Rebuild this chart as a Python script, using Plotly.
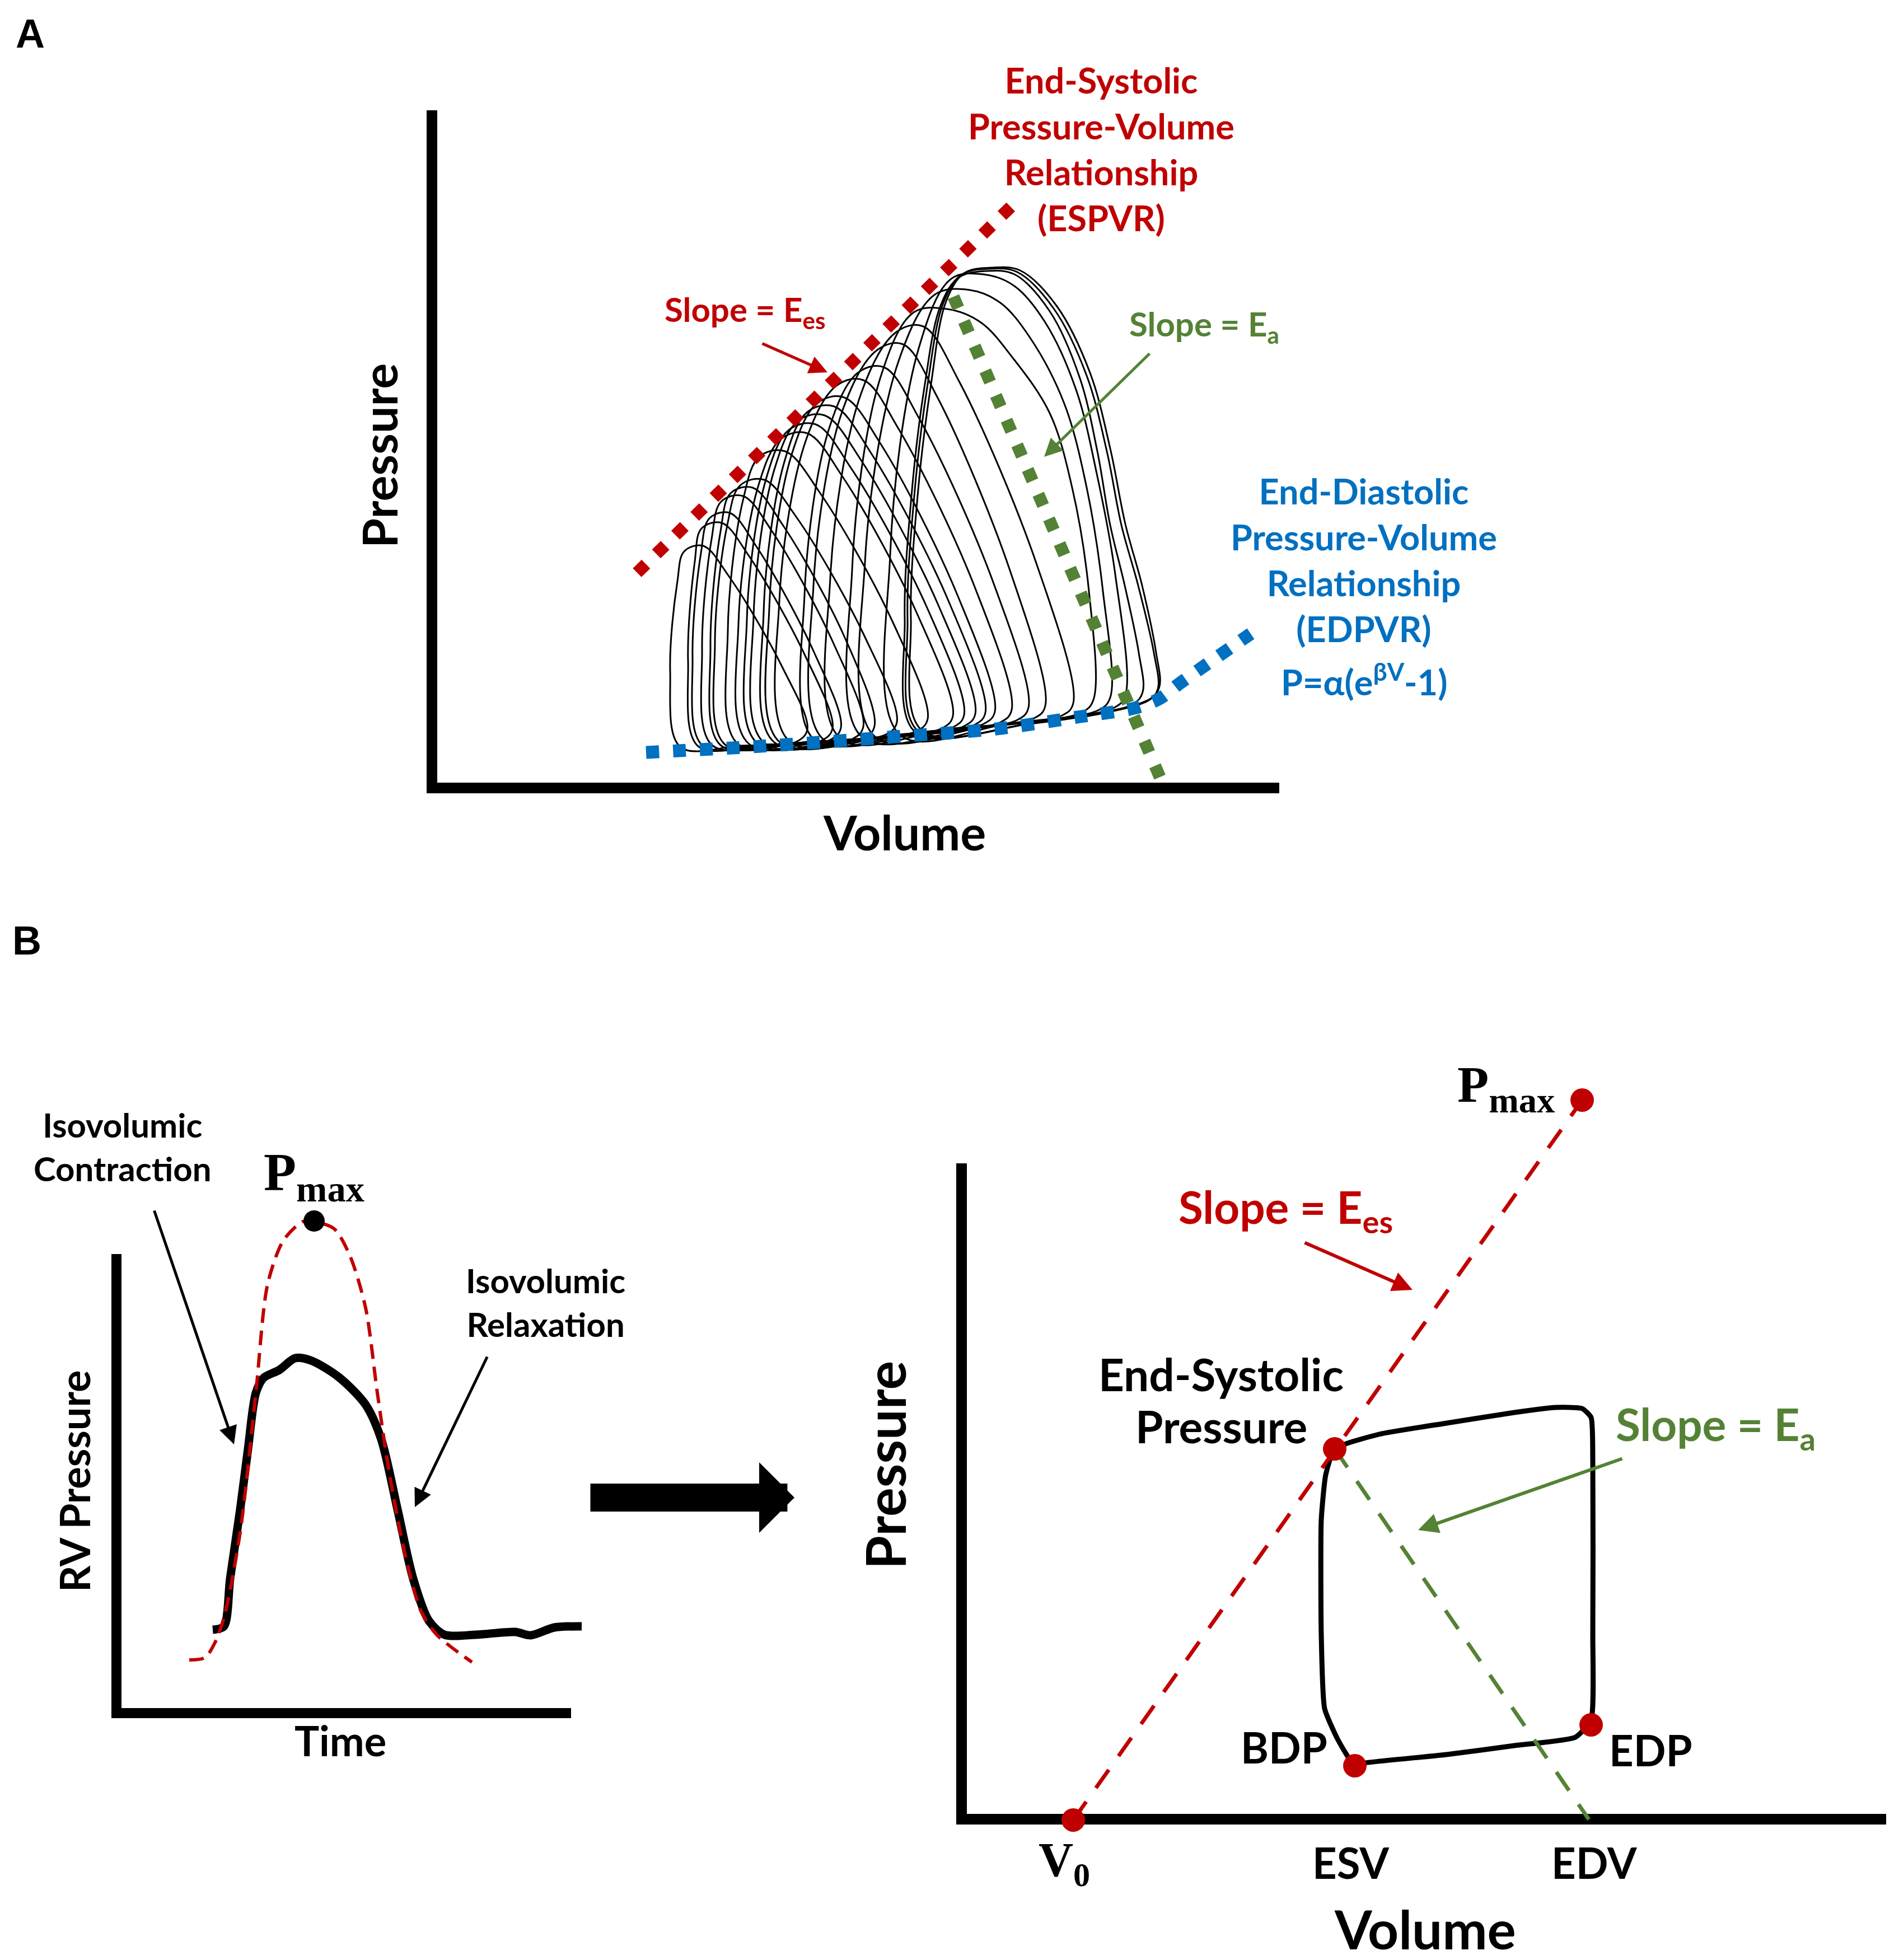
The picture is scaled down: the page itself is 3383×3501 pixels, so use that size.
import plotly.graph_objects as go

W, H = 3383, 3501

RED = "#C00000"
GREEN = "#548235"
BLUE = "#0070C0"
SANS = "Lato, Open Sans, DejaVu Sans, sans-serif"
SERIF = "Liberation Serif, DejaVu Serif, serif"

# ---------------- Panel A : IVC occlusion family of PV loops ----------------
espvr_volume = [37.1, 104.4]
espvr_pressure = [38.3, 104.2]

ea_volume_a = [93.6, 130.9]
ea_pressure_a = [87.6, 0.8]

edpvr_volume = [38.7, 59.1, 83.1, 102.1, 116.3, 125.9, 130.4, 134.1, 146.7]
edpvr_pressure = [6.2, 7.3, 9.0, 10.5, 12.6, 14.1, 15.8, 18.6, 27.4]

loop_volumes = [
    [55.6, 44.8, 43.0, 44.3, 45.5, 48.9, 53.4, 63.0, 67.5, 65.5, 55.6],
    [59.5, 48.0, 46.2, 47.4, 48.6, 52.2, 57.0, 67.2, 72.0, 70.0, 59.5],
    [60.7, 48.8, 47.0, 48.5, 50.0, 53.6, 58.4, 68.7, 73.5, 71.5, 60.7],
    [63.5, 50.5, 48.7, 50.4, 52.1, 56.0, 61.2, 72.3, 77.5, 75.5, 63.5],
    [65.3, 52.0, 50.2, 52.0, 53.8, 57.7, 63.0, 74.2, 79.5, 77.5, 65.3],
    [67.7, 52.8, 51.0, 53.2, 55.5, 59.8, 65.5, 77.7, 83.5, 81.5, 67.7],
    [71.6, 55.1, 53.3, 56.0, 58.9, 63.5, 69.6, 82.8, 89.0, 87.0, 71.6],
    [74.8, 57.0, 55.2, 58.8, 62.8, 67.5, 73.7, 87.1, 93.5, 91.5, 74.8],
    [76.5, 58.5, 56.7, 60.2, 64.2, 69.0, 75.3, 89.0, 95.5, 93.5, 76.5],
    [78.1, 59.7, 57.9, 61.6, 65.8, 70.6, 77.1, 90.9, 97.5, 95.5, 78.1],
    [79.9, 61.5, 59.7, 63.4, 67.5, 72.3, 78.8, 92.7, 99.3, 97.3, 79.9],
    [81.3, 62.5, 60.7, 64.7, 69.3, 74.1, 80.6, 94.4, 101.0, 99.0, 81.3],
    [83.7, 64.3, 62.5, 67.3, 72.7, 77.5, 83.8, 97.5, 104.0, 102.0, 83.7],
    [87.4, 68.8, 67.0, 71.4, 76.5, 81.2, 87.4, 100.7, 107.0, 105.0, 87.4],
    [89.7, 70.4, 68.6, 73.9, 80.0, 84.6, 90.7, 103.8, 110.0, 108.0, 89.7],
    [93.7, 73.4, 71.6, 77.1, 83.4, 88.2, 94.6, 108.4, 115.0, 113.0, 93.7],
    [97.5, 77.3, 75.5, 80.6, 86.5, 92.5, 98.5, 104.1, 110.8, 114.8, 117.8, 118.6, 116.6, 97.5],
    [100.3, 79.6, 77.8, 83.8, 90.3, 96.5, 102.0, 107.4, 113.4, 117.4, 120.3, 121.6, 119.6, 100.3],
    [103.7, 84.1, 82.3, 87.4, 93.2, 99.0, 104.5, 110.0, 115.5, 119.2, 122.5, 124.3, 122.3, 103.7],
    [106.5, 86.8, 84.9, 86.1, 88.5, 91.3, 94.5, 99.5, 104.5, 110.8, 116.2, 119.3, 121.6, 124.2, 126.7, 127.4, 125.6, 106.5],
    [108.0, 87.3, 85.4, 86.6, 89.0, 91.8, 95.0, 100.0, 105.0, 111.5, 117.4, 121.0, 123.6, 126.6, 129.4, 130.1, 128.3, 108.0],
    [108.5, 88.0, 86.0, 87.2, 89.6, 92.3, 95.5, 100.5, 105.5, 112.0, 118.0, 121.6, 124.3, 127.3, 129.8, 130.4, 128.8, 108.5],
]
loop_pressures = [
    [7.4, 7.2, 20.7, 36.8, 42.1, 43.1, 37.8, 21.5, 10.3, 8.1, 7.4],
    [7.6, 7.3, 22.5, 40.3, 46.2, 47.2, 41.4, 23.3, 10.5, 8.3, 7.6],
    [7.6, 7.4, 23.2, 41.8, 48.0, 49.0, 43.0, 24.1, 10.6, 8.4, 7.6],
    [7.8, 7.5, 24.4, 44.3, 51.0, 52.0, 45.7, 25.4, 10.8, 8.6, 7.8],
    [7.9, 7.5, 25.1, 45.7, 52.5, 53.5, 47.0, 26.7, 10.9, 8.7, 7.9],
    [8.1, 7.6, 25.7, 46.8, 53.9, 54.9, 48.3, 27.0, 11.6, 9.4, 8.1],
    [8.3, 7.7, 27.8, 51.2, 59.0, 60.0, 52.8, 29.4, 12.2, 10.0, 8.3],
    [8.5, 7.8, 29.1, 54.0, 62.2, 63.2, 55.6, 31.0, 12.7, 10.5, 8.5],
    [8.5, 7.9, 29.8, 55.3, 63.8, 64.8, 57.0, 31.8, 12.9, 10.7, 8.5],
    [8.6, 8.0, 30.5, 56.7, 65.4, 66.4, 58.4, 32.5, 13.1, 10.9, 8.6],
    [8.9, 8.1, 31.2, 58.1, 67.0, 68.0, 59.8, 33.3, 13.3, 11.1, 8.9],
    [8.8, 8.1, 31.9, 59.4, 68.6, 69.6, 61.3, 34.1, 13.5, 11.3, 8.8],
    [9.4, 8.2, 33.2, 62.1, 71.7, 72.7, 64.0, 35.5, 13.8, 11.6, 9.4],
    [9.8, 8.4, 34.3, 64.1, 74.0, 75.0, 66.0, 36.6, 14.2, 12.0, 9.8],
    [10.0, 8.5, 36.0, 67.6, 78.1, 79.1, 69.7, 38.4, 14.5, 12.3, 10.0],
    [10.5, 8.7, 37.3, 70.3, 81.3, 82.3, 72.5, 40.0, 15.0, 12.8, 10.5],
    [10.6, 8.9, 38.8, 73.3, 84.8, 85.4, 83.0, 76.8, 66.8, 53.5, 35.0, 15.6, 13.4, 10.6],
    [11.0, 9.0, 40.2, 76.1, 88.0, 88.8, 86.5, 80.1, 68.5, 53.5, 35.0, 16.0, 13.8, 11.0],
    [11.4, 9.3, 41.5, 78.4, 90.8, 91.6, 89.5, 83.0, 71.0, 56.0, 38.0, 16.4, 14.2, 11.4],
    [11.2, 9.8, 30.0, 52.0, 72.0, 86.0, 91.0, 92.2, 91.6, 85.0, 73.0, 60.0, 46.8, 36.0, 24.0, 17.0, 14.8, 11.2],
    [11.5, 10.0, 30.0, 52.0, 72.0, 86.5, 91.5, 92.6, 92.0, 85.5, 73.5, 60.0, 46.8, 36.0, 24.0, 17.5, 15.4, 11.5],
    [11.6, 10.1, 30.0, 52.0, 72.0, 86.8, 91.8, 92.8, 92.3, 86.0, 74.0, 60.5, 47.0, 36.0, 24.0, 18.0, 15.8, 11.6],
]

# ---------------- Panel B (left) : RV pressure waveform ----------------
rv_time = [17.2, 19.2, 20.3, 22.1, 23.5, 24.9, 26.3, 29.1, 31.9, 34.7, 39.6, 44.5,
           47.3, 50.2, 53.0, 55.8, 58.6, 64.2, 71.2, 74.0, 78.2, 83.1]
rv_pressure = [14.8, 15.4, 23.9, 36.3, 47.1, 57.1, 59.8, 61.2, 63.3, 62.9, 60.0, 55.0,
               48.8, 36.3, 23.9, 16.4, 13.9, 13.9, 14.4, 13.8, 15.2, 15.4]
fit_time = [13.0, 15.8, 17.6, 19.3, 22.1, 24.9, 27.0, 29.8, 33.3, 35.4, 38.9, 41.7,
            44.5, 46.6, 48.7, 51.6, 54.4, 57.2, 63.5]
fit_pressure = [9.4, 9.8, 12.5, 17.3, 32.2, 57.1, 76.5, 84.3, 87.7, 87.7, 86.4, 81.6,
                72.3, 57.1, 43.0, 28.0, 18.1, 13.9, 9.0]
pmax_time = [35.3]
pmax_pressure = [87.8]

# ---------------- Panel B (right) : single-beat PV loop ----------------
single_loop_volume = [67.3, 75.2, 87.3, 99.4, 106.7, 111.5, 113.1, 113.4, 113.4, 113.1,
                      110.3, 99.4, 87.3, 72.7, 70.9, 67.9, 65.5, 64.9, 64.9, 65.7, 67.3]
single_loop_pressure = [67.1, 69.7, 71.7, 73.6, 74.5, 74.3, 72.7, 64.6, 34.0, 18.7,
                        15.6, 14.1, 12.5, 11.0, 10.5, 15.1, 20.7, 34.0, 54.4, 62.5, 67.1]
ees_line_volume = [20.6, 111.5]
ees_line_pressure = [0.8, 129.4]
ea_line_volume = [67.3, 112.7]
ea_line_pressure = [67.1, 0.9]
point_names = ["V0", "Pmax", "ESP", "BDP", "EDP"]
point_volume = [20.6, 111.5, 67.3, 70.9, 113.1]
point_pressure = [0.8, 129.4, 67.1, 10.5, 17.8]


def px(x):
    return x / W


def py(y):
    return 1 - y / H


fig = go.Figure()

# frame-only subplots (axis lines) need a placeholder trace
for ax in ["2", "4"]:
    fig.add_trace(go.Scatter(x=[None], y=[None], xaxis="x" + ax, yaxis="y" + ax,
                             showlegend=False, hoverinfo="skip"))

# Panel A traces
for v, p in zip(loop_volumes, loop_pressures):
    fig.add_trace(go.Scatter(x=v, y=p, mode="lines", xaxis="x", yaxis="y",
                             line=dict(color="black", width=3, shape="spline", smoothing=1.0),
                             showlegend=False, hoverinfo="skip"))
fig.add_trace(go.Scatter(x=edpvr_volume, y=edpvr_pressure, mode="lines", xaxis="x", yaxis="y",
                         line=dict(color=BLUE, width=23, dash="23px,25px", shape="spline", smoothing=0.8),
                         showlegend=False, hoverinfo="skip"))
fig.add_trace(go.Scatter(x=espvr_volume, y=espvr_pressure, mode="lines", xaxis="x", yaxis="y",
                         line=dict(color=RED, width=22, dash="22px,26px"),
                         showlegend=False, hoverinfo="skip"))
fig.add_trace(go.Scatter(x=ea_volume_a, y=ea_pressure_a, mode="lines", xaxis="x", yaxis="y",
                         line=dict(color=GREEN, width=22, dash="22px,26px"),
                         showlegend=False, hoverinfo="skip"))

# Panel B left traces
fig.add_trace(go.Scatter(x=rv_time, y=rv_pressure, mode="lines", xaxis="x3", yaxis="y3",
                         line=dict(color="black", width=15, shape="spline", smoothing=0.8),
                         showlegend=False, hoverinfo="skip"))
fig.add_trace(go.Scatter(x=fit_time, y=fit_pressure, mode="lines", xaxis="x3", yaxis="y3",
                         line=dict(color=RED, width=6, dash="26px,14px", shape="spline", smoothing=0.8),
                         showlegend=False, hoverinfo="skip"))
fig.add_trace(go.Scatter(x=pmax_time, y=pmax_pressure, mode="markers", xaxis="x3", yaxis="y3",
                         marker=dict(color="black", size=38), showlegend=False, hoverinfo="skip"))

# Panel B right traces
fig.add_trace(go.Scatter(x=single_loop_volume, y=single_loop_pressure, mode="lines", xaxis="x5", yaxis="y5",
                         line=dict(color="black", width=9, shape="spline", smoothing=0.5),
                         showlegend=False, hoverinfo="skip"))
fig.add_trace(go.Scatter(x=ees_line_volume, y=ees_line_pressure, mode="lines", xaxis="x5", yaxis="y5",
                         line=dict(color=RED, width=7, dash="40px,30px"),
                         showlegend=False, hoverinfo="skip"))
fig.add_trace(go.Scatter(x=ea_line_volume, y=ea_line_pressure, mode="lines", xaxis="x5", yaxis="y5",
                         line=dict(color=GREEN, width=7, dash="40px,30px"),
                         showlegend=False, hoverinfo="skip"))
fig.add_trace(go.Scatter(x=point_volume, y=point_pressure, mode="markers", xaxis="x5", yaxis="y5",
                         text=point_names, marker=dict(color=RED, size=42),
                         showlegend=False, hoverinfo="skip"))

hidden = dict(visible=False, showgrid=False, zeroline=False)
frame = dict(showline=True, linecolor="black", showgrid=False, zeroline=False,
             showticklabels=False, ticks="", layer="above traces")

fig.update_layout(
    width=W, height=H, margin=dict(l=0, r=0, t=0, b=0),
    paper_bgcolor="white", plot_bgcolor="rgba(0,0,0,0)", showlegend=False,
    # Panel A: pixel mapping x = 759 + 10V, y = 1398 - 10P
    xaxis=dict(frame, domain=[px(773), px(2277)], range=[1.4, 151.8], anchor="y", linewidth=19),
    yaxis=dict(frame, domain=[py(1390), py(189)], range=[0.8, 120.9], anchor="x", linewidth=19),
    # Panel B left frame / data: x = 200 + 10T, y = 3051 - 10P
    xaxis2=dict(frame, domain=[px(209), px(1012)], range=[0.9, 81.2], anchor="y2", linewidth=18),
    yaxis2=dict(frame, domain=[py(3043), py(2232)], range=[0.8, 81.9], anchor="x2", linewidth=18),
    xaxis3=dict(hidden, domain=[px(100), px(1100)], range=[-10, 90], anchor="y3"),
    yaxis3=dict(hidden, domain=[py(3100), py(2100)], range=[-4.9, 95.1], anchor="x3"),
    # Panel B right frame / data: x = 1703 + 10V, y = 3251 - 10P
    xaxis4=dict(frame, domain=[px(1718.5), px(3361)], range=[1.55, 165.8], anchor="y4", linewidth=19),
    yaxis4=dict(frame, domain=[py(3231.5), py(2070)], range=[1.95, 118.1], anchor="x4", linewidth=19),
    xaxis5=dict(hidden, domain=[px(1650), px(3383)], range=[-5.3, 168.0], anchor="y5"),
    yaxis5=dict(hidden, domain=[py(3300), py(1900)], range=[-4.9, 135.1], anchor="x5"),
)

ann = []


def label(text, x, y, size, color="black", family=SANS, angle=0, bold=True):
    ann.append(dict(text=text, x=px(x), y=py(y), xref="paper", yref="paper",
                    xanchor="center", yanchor="middle", showarrow=False, textangle=angle,
                    font=dict(family=family, size=size, color=color,
                              weight="bold" if bold else "normal")))


def arrow(tail, tip, color, width, head=2, size=1.2):
    ann.append(dict(text="", x=px(tip[0]), y=py(tip[1]), xref="paper", yref="paper",
                    ax=tail[0] - tip[0], ay=tail[1] - tip[1], axref="pixel", ayref="pixel",
                    showarrow=True, arrowhead=head, arrowsize=size, arrowwidth=width,
                    arrowcolor=color, standoff=0, startstandoff=0))


# panel letters
label("A", 46, 52, 72, family="Liberation Sans, Arial, sans-serif")
label("B", 40, 1672, 72, family="Liberation Sans, Arial, sans-serif")

# Panel A labels
label("Pressure", 669, 806, 86, angle=-90)
label("Volume", 1607, 1477, 86)
label("End-Systolic<br>Pressure-Volume<br>Relationship<br>(ESPVR)", 1959, 257, 63, RED)
label("Slope = E<sub>es</sub>", 1322, 548, 60, RED)
arrow((1352, 605), (1470, 657), RED, 5, size=1.3)
label("Slope = E<sub>a</sub>", 2143, 575, 60, GREEN)
arrow((2047, 622), (1857, 808), GREEN, 5, size=1.3)
label("End-Diastolic<br>Pressure-Volume<br>Relationship<br>(EDPVR)", 2428, 992, 63, BLUE)
label("P=α(e<sup>βV</sup>-1)", 2428, 1205, 63, BLUE)

# Panel B left labels
label("Isovolumic<br>Contraction", 211, 2040, 60)
label("Isovolumic<br>Relaxation", 966, 2318, 60)
label("P<sub>max</sub>", 553, 2092, 95, family=SERIF)
arrow((267, 2153), (410, 2572), "black", 5, size=1.3)
arrow((863, 2414), (733, 2684), "black", 5, size=1.3)
label("RV Pressure", 124, 2637, 74, angle=-90)
label("Time", 600, 3100, 74)

# big block arrow between panels
arrow((1045, 2667), (1411, 2667), "black", 50, head=1, size=0.42)

# Panel B right labels
label("P<sub>max</sub>", 2682, 1935, 92, family=SERIF)
label("Slope = E<sub>es</sub>", 2288, 2153, 80, RED)
arrow((2321, 2211), (2515, 2296), RED, 6, size=1.2)
label("End-Systolic", 2173, 2446, 80)
label("Pressure", 2173, 2539, 80)
label("Slope = E<sub>a</sub>", 3056, 2541, 80, GREEN)
arrow((2891, 2597), (2525, 2725), GREEN, 6, size=1.2)
label("BDP", 2285, 3112, 76)
label("EDP", 2940, 3117, 76)
label("V<sub>0</sub>", 1893, 3320, 86, family=SERIF)
label("ESV", 2405, 3318, 76)
label("EDV", 2840, 3318, 76)
label("Volume", 2537, 3436, 96)
label("Pressure", 1572, 2609, 97, angle=-90)

fig.update_layout(annotations=ann)
fig.write_html("out.html")
